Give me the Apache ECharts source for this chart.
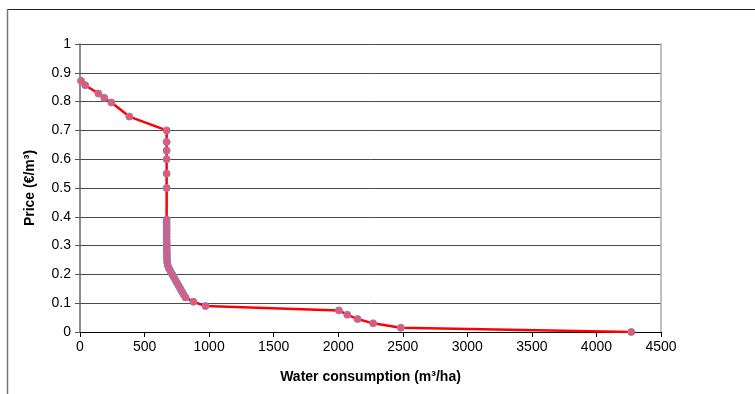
<!DOCTYPE html>
<html>
<head>
<meta charset="utf-8">
<script src="https://cdn.jsdelivr.net/npm/echarts@6/dist/echarts.min.js"></script>
<style>
  html, body { margin: 0; padding: 0; background: #fff; }
  #chart { width: 755px; height: 394px; }
</style>
</head>
<body>
<div id="chart"></div>
<script>
// Water demand curve: consumption (m³/ha) against water price (€/m³)
var waterUse = [
  8, 41, 142, 188, 243, 382, 671,
  671, 671, 671, 671, 671,
  671, 671, 671, 671, 671, 671, 671, 671,
  672, 672, 672, 672, 673, 673, 674, 676,
  681, 690, 702, 714, 727, 740, 752, 765, 777, 790, 803, 818,
  878, 972,
  2005, 2070, 2150, 2270, 2485, 4270
];
var price = [
  0.872, 0.857, 0.828, 0.813, 0.797, 0.748, 0.70,
  0.66, 0.63, 0.60, 0.55, 0.50,
  0.39, 0.38, 0.37, 0.36, 0.35, 0.34, 0.33, 0.32,
  0.31, 0.30, 0.29, 0.28, 0.27, 0.26, 0.25, 0.24,
  0.23, 0.22, 0.21, 0.20, 0.19, 0.18, 0.17, 0.16, 0.15, 0.14, 0.13, 0.12,
  0.105, 0.09,
  0.075, 0.06, 0.045, 0.03, 0.015, 0.0
];

var xTitle = 'Water consumption (m³/ha)';
var yTitle = 'Price (€/m³)';

var points = waterUse.map(function (w, i) { return [w, price[i]]; });

var font = 'Liberation Sans, Arial, sans-serif';
var chart = echarts.init(document.getElementById('chart'), null, { renderer: 'canvas' });

chart.setOption({
  animation: false,
  backgroundColor: '#ffffff',
  grid: { left: 80, right: 94, top: 44, bottom: 62, containLabel: false },
  xAxis: {
    type: 'value',
    min: 0, max: 4500, interval: 500,
    name: xTitle,
    nameLocation: 'middle',
    nameGap: 38,
    nameTextStyle: { fontFamily: font, fontSize: 14, fontWeight: 'bold', color: '#000' },
    axisLine: { show: true, onZero: false, lineStyle: { color: '#000', width: 1 } },
    axisTick: { show: true, length: 5, lineStyle: { color: '#000' } },
    axisLabel: {
      fontFamily: font, fontSize: 14, color: '#000', margin: 8,
      formatter: function (v) { return String(v); }
    },
    splitLine: { show: false }
  },
  yAxis: [{
    type: 'value',
    min: 0, max: 1, interval: 0.1,
    name: yTitle,
    nameLocation: 'middle',
    nameGap: 43,
    nameRotate: 90,
    nameTextStyle: { fontFamily: font, fontSize: 14, fontWeight: 'bold', color: '#000' },
    axisLine: { show: true, lineStyle: { color: '#666', width: 1.5 } },
    axisTick: { show: true, length: 5, lineStyle: { color: '#555' } },
    axisLabel: {
      fontFamily: font, fontSize: 14, color: '#000', margin: 9,
      formatter: function (v) { return String(Math.round(v * 10) / 10); }
    },
    splitLine: { show: true, lineStyle: { color: '#4a4a4a', width: 1 } }
  }, {
    type: 'value',
    position: 'right',
    min: 0, max: 1, interval: 0.1,
    axisLine: { show: true, lineStyle: { color: '#aaaaaa', width: 1.5 } },
    axisTick: { show: false },
    axisLabel: { show: false },
    splitLine: { show: false }
  }],
  series: [{
    type: 'line',
    data: points,
    yAxisIndex: 0,
    symbol: 'circle',
    symbolSize: 7,
    showAllSymbol: true,
    lineStyle: { color: '#ff0000', width: 2.5 },
    itemStyle: { color: '#f0566a', borderColor: '#8a7cc6', borderWidth: 1 },
    z: 3
  }],
  graphic: [
    { type: 'line', shape: { x1: 7, y1: 9.5, x2: 755, y2: 9.5 }, style: { stroke: '#222', lineWidth: 1 } },
    { type: 'line', shape: { x1: 7.5, y1: 9, x2: 7.5, y2: 394 }, style: { stroke: '#777', lineWidth: 1.5 } }
  ]
});
</script>
</body>
</html>
